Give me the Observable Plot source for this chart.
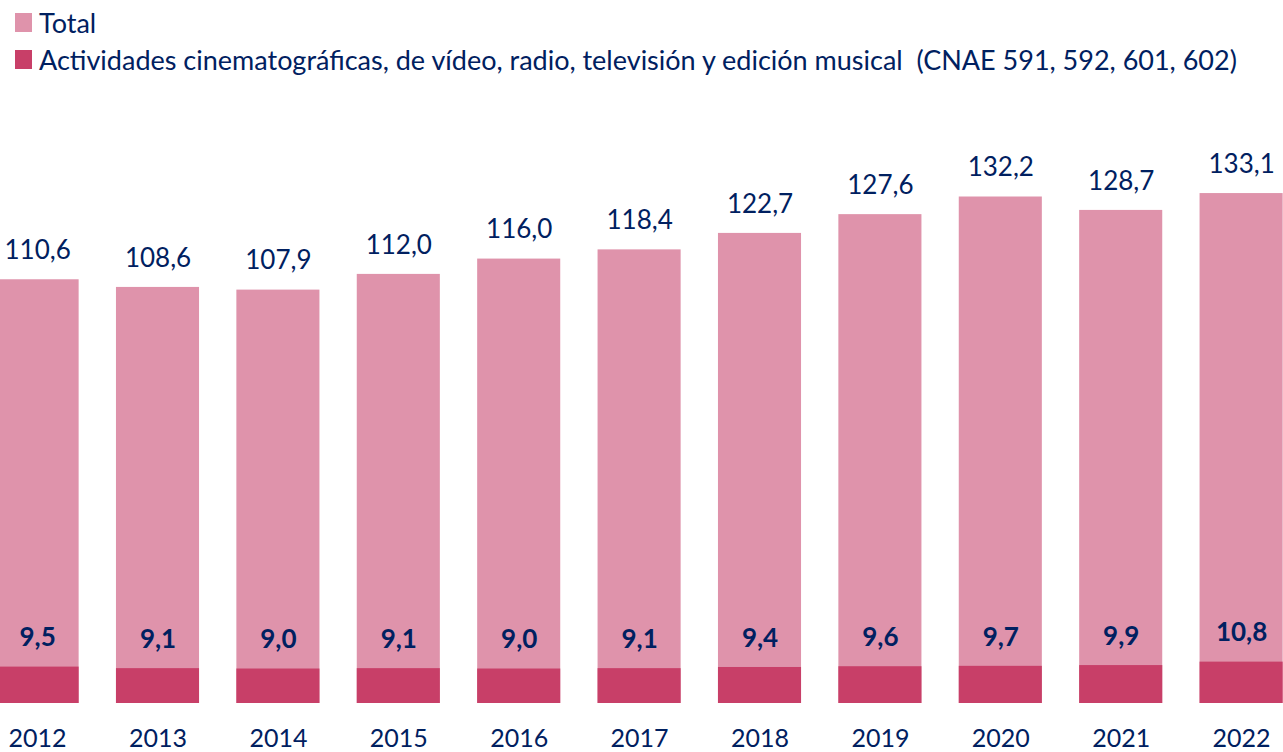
<!DOCTYPE html>
<html>
<head>
<meta charset="utf-8">
<script src="https://cdn.jsdelivr.net/npm/d3@7"></script>
<script src="https://cdn.jsdelivr.net/npm/@observablehq/plot@0.6"></script>
<style>
  html, body { margin: 0; padding: 0; background: #fff; overflow: hidden; }
  body { width: 1283px; height: 752px; font-family: Lato, "Open Sans", sans-serif; color: #002060; }
  #legend { position: relative; height: 90px; width: 1283px; }
  .item { position: absolute; left: 15px; display: flex; align-items: center; white-space: nowrap; font-size: 27px; line-height: 27px; }
  .sw { width: 17px; height: 19px; margin-right: 7px; flex: none; }
</style>
</head>
<body>
<div id="legend"></div>
<div id="chart"></div>
<script>
const years = ["2012","2013","2014","2015","2016","2017","2018","2019","2020","2021","2022"];
const totalValues = [110.6,108.6,107.9,112.0,116.0,118.4,122.7,127.6,132.2,128.7,133.1];
const cineValues = [9.5,9.1,9.0,9.1,9.0,9.1,9.4,9.6,9.7,9.9,10.8];
const seriesNames = ["Total", "Actividades cinematográficas, de vídeo, radio, televisión y edición musical\u00a0 (CNAE 591, 592, 601, 602)"];
const seriesColors = ["#df93ab", "#c83f68"];
const textColor = "#002060";

const fmt = v => v.toFixed(1).replace(".", ",");
const totalData = years.map((y, i) => ({year: y, value: totalValues[i]}));
const cineData = years.map((y, i) => ({year: y, value: cineValues[i]}));

// legend
const legend = document.getElementById("legend");
seriesNames.forEach((name, i) => {
  const it = document.createElement("div");
  it.className = "item";
  it.style.top = (9 + i * 37) + "px";
  it.innerHTML = `<span class="sw" style="background:${seriesColors[i]}"></span><span>${name}</span>`;
  legend.appendChild(it);
});

const chart = Plot.plot({
  width: 1283,
  height: 662,
  marginTop: 0,
  marginRight: 0,
  marginBottom: 49,
  marginLeft: 0,
  style: {fontFamily: "Lato, 'Open Sans', sans-serif", background: "transparent", overflow: "visible"},
  x: {domain: years, range: [-23.1, 1301.3], paddingInner: 0.31, paddingOuter: 0.155, round: false},
  y: {domain: [0, 160], range: [613, 0], axis: null},
  marks: [
    Plot.barY(totalData, {x: "year", y: "value", fill: seriesColors[0]}),
    Plot.barY(cineData, {x: "year", y: "value", fill: seriesColors[1]}),
    Plot.text(totalData, {x: "year", y: "value", text: d => fmt(d.value), dy: -29, fill: textColor, fontSize: 26}),
    Plot.text(cineData, {x: "year", y: "value", text: d => fmt(d.value), dy: -29, fill: textColor, fontSize: 26, fontWeight: "bold"}),
    Plot.axisX({tickSize: 0, tickPadding: 26, fontSize: 25, color: textColor, label: null})
  ]
});
document.getElementById("chart").appendChild(chart);
</script>
</body>
</html>
